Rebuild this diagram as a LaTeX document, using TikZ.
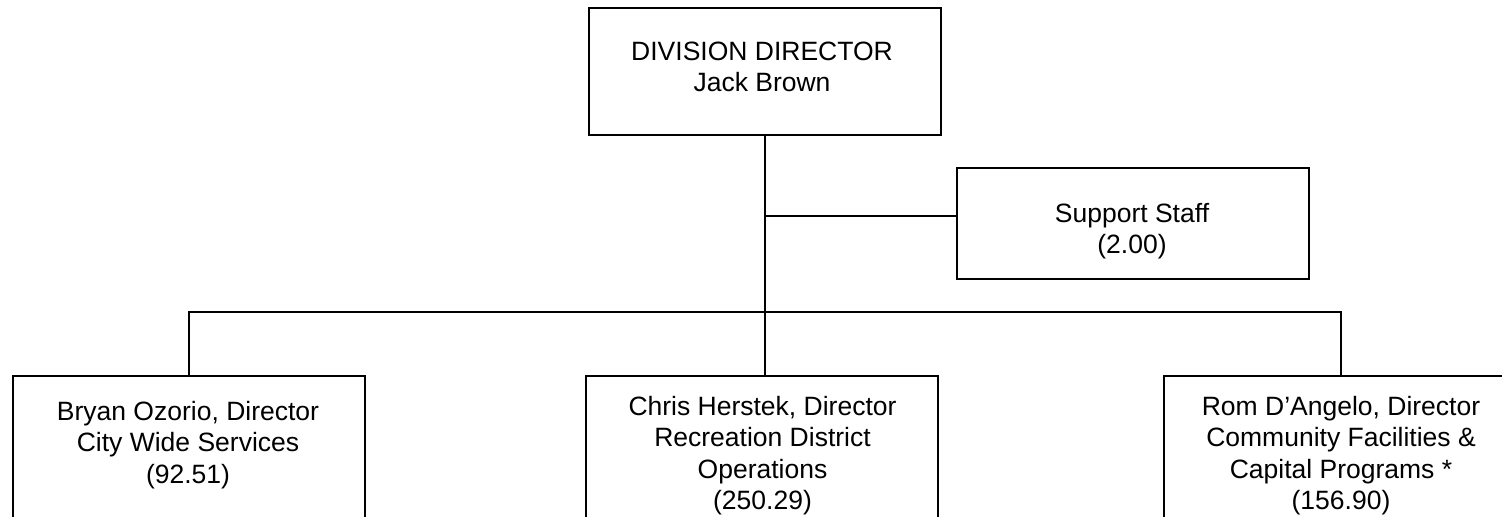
\documentclass[tikz,border=0pt]{standalone}
\usepackage{fontspec}
\setmainfont{Liberation Sans}
\begin{document}
\begin{tikzpicture}[x=0.5pt,y=-0.5pt,
  box/.style={draw=black,line width=0.8pt,rectangle,inner sep=0pt},
  lbl/.style={align=center,inner sep=0pt,anchor=base,font=\fontsize{13.25pt}{15.75pt}\selectfont},
  conn/.style={draw=black,line width=0.8pt}]
\useasboundingbox (0,0) rectangle (1502,517);
\clip (0,0) rectangle (1502,517);
% boxes
\node[box,minimum width=176pt,minimum height=63.5pt] (dir) at (765,71.5) {};
\node[box,minimum width=176pt,minimum height=55.5pt] (sup) at (1133,223.5) {};
\node[box,minimum width=176pt,minimum height=100pt] (bry) at (189,476) {};
\node[box,minimum width=176pt,minimum height=100pt] (chr) at (762,476) {};
\node[box,minimum width=177pt,minimum height=100pt] (rom) at (1341,476) {};
% texts (anchored at the baseline of the last line)
\node[lbl] (tdir) at (762,92) {DIVISION DIRECTOR\\Jack Brown};
\node[lbl] (tsup) at (1132,254) {Support Staff\\(2.00)};
\node[lbl] (tbry) at (188,483) {Bryan Ozorio, Director\\City Wide Services\\(92.51)};
\node[lbl] (tchr) at (762.5,509.5) {Chris Herstek, Director\\Recreation District\\Operations\\(250.29)};
\node[lbl] (trom) at (1341,509.5) {Rom D’Angelo, Director\\Community Facilities \&\\Capital Programs *\\(156.90)};
% connectors
\coordinate (j1) at (765,216);
\coordinate (bus) at (765,312);
\draw[conn] (dir.south) -- (dir.south |- chr.north);
\draw[conn] (j1) -- (sup.west |- j1);
\draw[conn] (bry.north) |- (bus) -| (rom.north);
\end{tikzpicture}
\end{document}
